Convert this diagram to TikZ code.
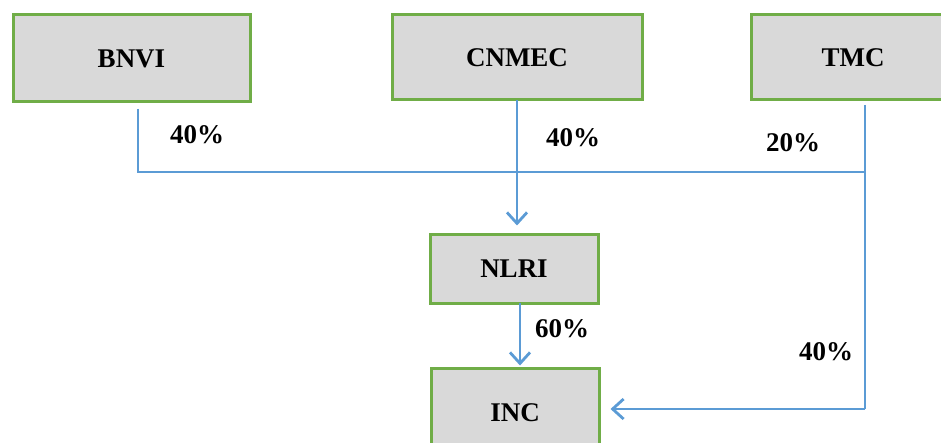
\documentclass[tikz,border=0pt]{standalone}
\usepackage{fontspec}
\setmainfont{Liberation Serif}
\usetikzlibrary{arrows.meta}
\definecolor{boxgreen}{RGB}{112,173,71}
\definecolor{boxfill}{RGB}{217,217,217}
\definecolor{lineblue}{RGB}{91,155,213}
\begin{document}
\begin{tikzpicture}[x=1pt,y=-1pt,
  orgbox/.style={draw=boxgreen,fill=boxfill,line width=3pt,inner sep=0pt,text depth=0pt,
    font=\bfseries\fontsize{27}{31}\selectfont},
  pct/.style={font=\bfseries\fontsize{27}{31}\selectfont,inner sep=0pt,text depth=0pt},
  flow/.style={draw=lineblue,line width=2.6pt},
  arr/.style={flow,-{Straight Barb[length=11pt,width=20pt,line width=2.8pt]}}]
\useasboundingbox (0,0) rectangle (941,443);
\node[orgbox,minimum width=237pt,minimum height=87pt] (bnvi) at (131.5,58.5) {BNVI};
\node[orgbox,minimum width=250pt,minimum height=85pt] (cnmec) at (517,57.5) {CNMEC};
\node[orgbox,minimum width=204pt,minimum height=85pt] (tmc) at (853,57.5) {TMC};
\node[orgbox,minimum width=168pt,minimum height=68pt] (nlri) at (514,269) {NLRI};
\node[orgbox,minimum width=168pt,minimum height=90pt] (inc) at (515,413) {INC};
\coordinate (bt) at (138,109);
\coordinate (j1) at (138,172);
\coordinate (j3) at (865,172);
\coordinate (tt) at (865,105);
\coordinate (tb) at (865,409);
\coordinate (ct) at (517,100);
\coordinate (nb) at (520,303);
\draw[flow] (bt) -- (j1) -- (j3);
\draw[flow] (tt) -- (tb);
\draw[arr,shorten >=8pt] (ct) -- (ct |- nlri.north);
\draw[arr,shorten >=1pt] (nb) -- (nb |- inc.north);
\draw[arr,shorten >=10pt] (tb) -- (tb -| inc.east);
\node[pct] (p1) at (197,135) {40\%};
\node[pct] (p2) at (573,138) {40\%};
\node[pct] (p3) at (793,143) {20\%};
\node[pct] (p4) at (562,329) {60\%};
\node[pct] (p5) at (826,352) {40\%};
\end{tikzpicture}
\end{document}
